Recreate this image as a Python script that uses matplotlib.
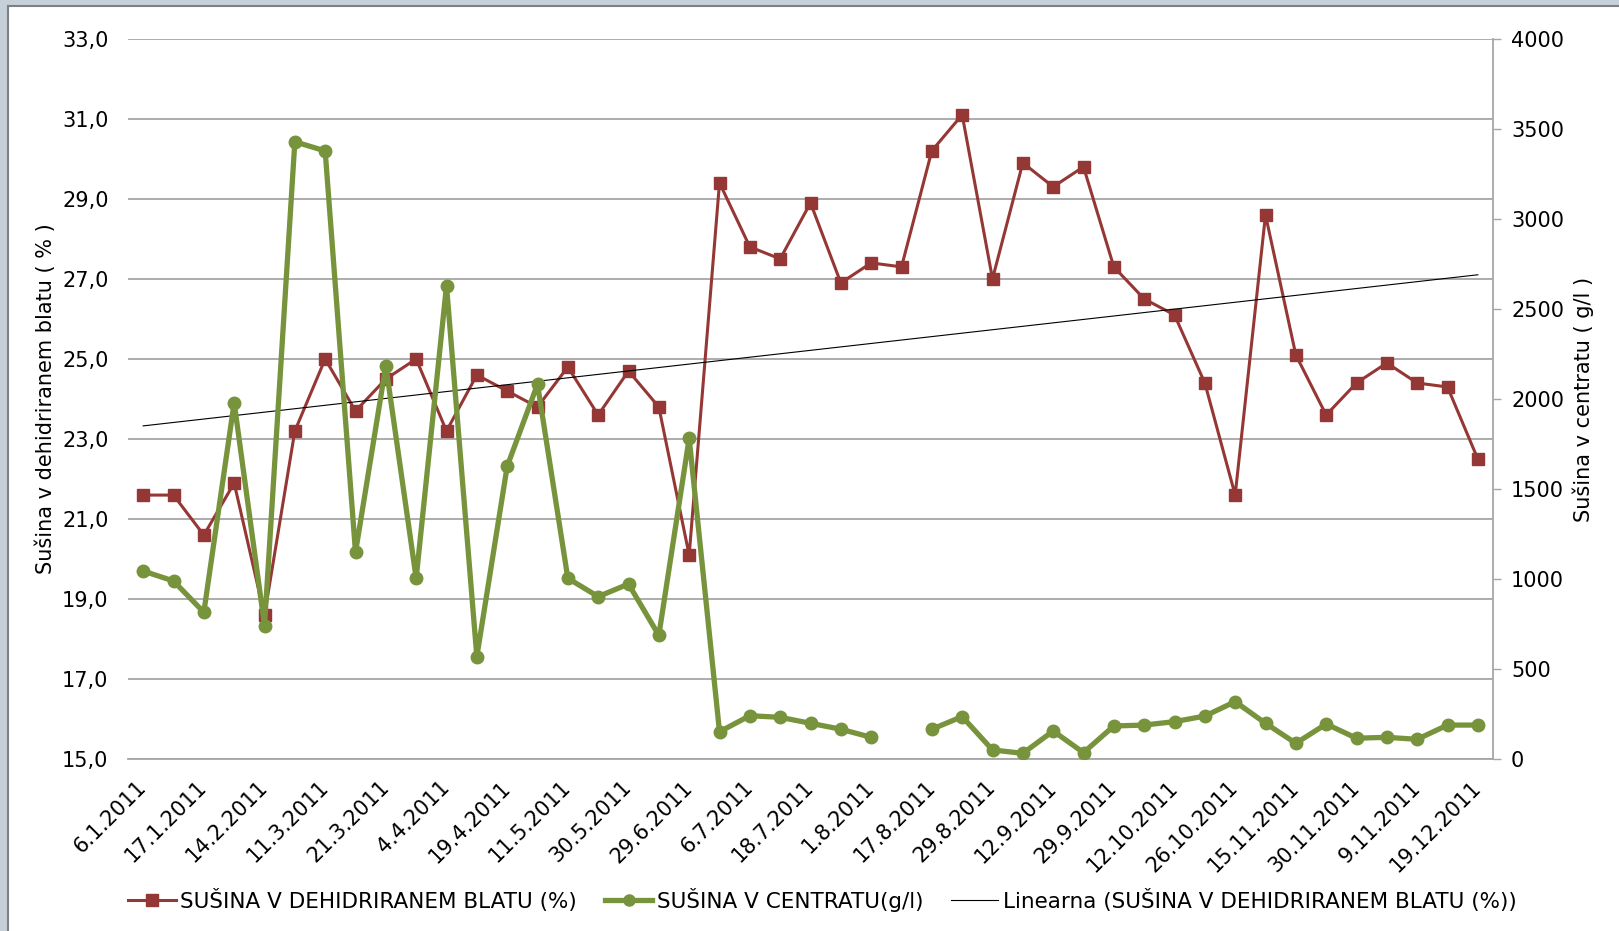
import matplotlib.pyplot as plt
import numpy as np
from matplotlib.lines import Line2D
from matplotlib.patches import Rectangle

# only every second date is labelled on the axis
tick_dates = ["6.1.2011", "17.1.2011", "14.2.2011", "11.3.2011", "21.3.2011",
              "4.4.2011", "19.4.2011", "11.5.2011", "30.5.2011", "29.6.2011",
              "6.7.2011", "18.7.2011", "1.8.2011", "17.8.2011", "29.8.2011",
              "12.9.2011", "29.9.2011", "12.10.2011", "26.10.2011", "15.11.2011",
              "30.11.2011", "9.11.2011", "19.12.2011"]

# susina v dehidriranem blatu (%)
blato = [21.6, 21.6, 20.6, 21.9, 18.6, 23.2, 25.0, 23.7, 24.5, 25.0,
         23.2, 24.6, 24.2, 23.8, 24.8, 23.6, 24.7, 23.8, 20.1, 29.4,
         27.8, 27.5, 28.9, 26.9, 27.4, 27.3, 30.2, 31.1, 27.0, 29.9,
         29.3, 29.8, 27.3, 26.5, 26.1, 24.4, 21.6, 28.6, 25.1, 23.6,
         24.4, 24.9, 24.4, 24.3, 22.5]

# susina v centratu (g/l), one missing value
centrat = [1045, 990, 816, 1980, 742, 3428, 3377, 1149, 2185, 1005,
           2629, 570, 1626, 2082, 1005, 903, 973, 688, 1782, 153,
           242, 233, 200, 167, 122, np.nan, 167, 237, 52, 33,
           157, 37, 185, 190, 209, 240, 320, 200, 89, 196,
           117, 122, 111, 190, 190]

red = "#953735"
green = "#77933c"
grid_c = "#a6a6a6"

plt.rcParams['font.family'] = ['DejaVu Sans']
plt.rcParams['font.size'] = 15

fig = plt.figure(figsize=(16.19, 9.31), dpi=100, facecolor="#c5d0d8")
W, H = 1619, 931
fig.patches.append(Rectangle((9 / W, 0), 1, 1 - 7 / H, transform=fig.transFigure,
                             facecolor="white", edgecolor="none", zorder=-10))
fig.lines.append(Line2D([8 / W, 8 / W], [0, 1 - 6 / H], transform=fig.transFigure,
                        color="#808080", lw=1.5, zorder=-5))
fig.lines.append(Line2D([8 / W, 1], [1 - 6 / H, 1 - 6 / H], transform=fig.transFigure,
                        color="#808080", lw=1.5, zorder=-5))

ax = fig.add_axes([128 / W, 1 - 759.3 / H, (1493 - 128) / W, (759.3 - 38.7) / H])
ax.patch.set_alpha(0)
x = np.arange(len(blato))

ax.plot(x, blato, color=red, lw=2.2, marker="s", ms=9, zorder=3)
k, n = np.polyfit(x, blato, 1)
ax.plot([x[0], x[-1]], [k * x[0] + n, k * x[-1] + n], color="black", lw=0.8, zorder=4)

ax.set_xlim(-0.5, len(blato) - 0.5)
ax.set_ylim(15, 33)
yt = np.arange(15, 34, 2)
ax.set_yticks(yt)
ax.set_yticklabels([("%.1f" % v).replace(".", ",") for v in yt])
ax.grid(axis="y", color=grid_c, lw=1.3)
ax.set_axisbelow(True)
ax.tick_params(axis="y", length=0, pad=14)
ax.set_xticks(x[::2])
ax.set_xticklabels(tick_dates, rotation=45, ha="right", va="center", rotation_mode="anchor")
ax.tick_params(axis="x", length=0, pad=18)
for s in ["top", "right", "left"]:
    ax.spines[s].set_visible(False)
ax.spines["bottom"].set_color(grid_c)
ax.spines["bottom"].set_linewidth(1.3)

ax2 = ax.twinx()
ax2.plot(x, centrat, color=green, lw=3.8, marker="o", ms=9, zorder=3)
ax2.set_ylim(0, 4000)
ax2.set_yticks(np.arange(0, 4001, 500))
ax2.tick_params(axis="y", length=6, width=1, color=grid_c, pad=7)
for s in ["top", "left", "bottom"]:
    ax2.spines[s].set_visible(False)
ax2.spines["right"].set_color(grid_c)
ax2.spines["right"].set_linewidth(1.3)

fig.text(46 / W, 1 - 399 / H, "Sušina v dehidriranem blatu ( % )", rotation=90,
         ha="center", va="center")
fig.text(1583 / W, 1 - 399 / H, "Sušina v centratu ( g/l )", rotation=90,
         ha="center", va="center")

handles = [Line2D([], [], color=red, lw=2.2, marker="s", ms=9),
           Line2D([], [], color=green, lw=3.8, marker="o", ms=8),
           Line2D([], [], color="black", lw=0.8)]
labels = ["SUŠINA V DEHIDRIRANEM BLATU (%)", "SUŠINA V CENTRATU(g/l)",
          "Linearna (SUŠINA V DEHIDRIRANEM BLATU (%))"]
fig.legend(handles, labels, loc="center", bbox_to_anchor=(0.508, 1 - 900 / H), ncol=3,
           frameon=False, fontsize=15.5, handlelength=2.2, handletextpad=0.2,
           columnspacing=1.3)

fig.savefig("out.png", dpi=100, facecolor=fig.get_facecolor())
